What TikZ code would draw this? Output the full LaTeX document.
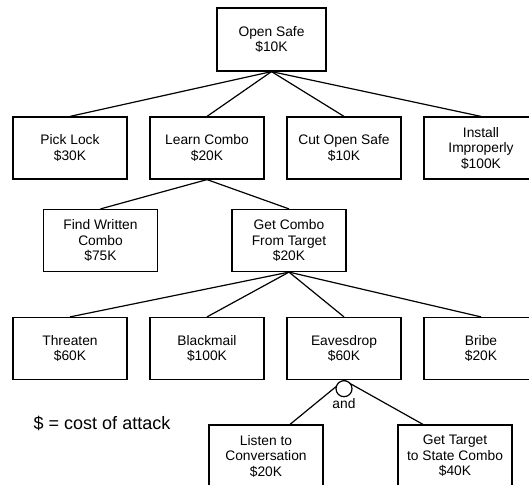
\documentclass[tikz,border=0pt]{standalone}
\usepackage{fontspec}
\setmainfont{Liberation Sans}
\usetikzlibrary{positioning}
\newcommand{\widthgoal}{114pt}
\newcommand{\heightgoal}{62pt}
\newcommand{\stepgoal}{137pt}
\newcommand{\goalfont}{\fontsize{13.8}{15.5}\selectfont}
\tikzset{
    goal/.style={draw, rectangle, align=center, font=\goalfont, line width=1.2pt,
        minimum width=\widthgoal, minimum height=\heightgoal, inner sep=2pt},
    edge/.style={line width=1.2pt},
    andgate/.style={draw, circle, fill=white, line width=1.2pt, minimum size=16pt, inner sep=0pt,
        label={[font=\goalfont, inner sep=1pt]below:and}}
}

\begin{document}
\begin{tikzpicture}[x=1pt, y=-1pt]
    \useasboundingbox (0,0) rectangle (529,484);

    \node[goal, minimum width=109pt, minimum height=63pt] (safe) at (271.5,39.5) {Open Safe\\\$10K};

    \path (70,148)
        node[goal] (pick) {Pick Lock\\\$30K}
        ++(\stepgoal,0) node[goal] (learn) {Learn Combo\\\$20K}
        ++(\stepgoal,0) node[goal] (cut) {Cut Open Safe\\\$10K}
        ++(\stepgoal,0) node[goal] (install) {Install\\Improperly\\\$100K};

    \node[goal] (written) at (100.5,240.5) {Find Written\\Combo\\\$75K};
    \node[goal] (target) at (289,240.5) {Get Combo\\From Target\\\$20K};

    \path (70,348.5)
        node[goal] (threaten) {Threaten\\\$60K}
        ++(\stepgoal,0) node[goal] (blackmail) {Blackmail\\\$100K}
        ++(\stepgoal,0) node[goal] (eaves) {Eavesdrop\\\$60K}
        ++(\stepgoal,0) node[goal] (bribe) {Bribe\\\$20K};

    \node[goal] (listen) at (266,456) {Listen to\\Conversation\\\$20K};
    \node[goal] (state) at (455,456) {Get Target\\to State Combo\\\$40K};

    \node[font=\fontsize{18}{22}\selectfont] (legend) at (102,423) {\$ = cost of attack};

    % or-branches
    \foreach \n in {pick, learn, cut, install}
        \draw[edge] (safe.south) -- (\n.north);
    \foreach \n in {written, target}
        \draw[edge] (learn.south) -- (\n.north);
    \foreach \n in {threaten, blackmail, eaves, bribe}
        \draw[edge] (target.south) -- (\n.north);

    % and-branch
    \draw[edge] (eaves.south) -- ([xshift=24pt]listen.north);
    \draw[edge] (eaves.south) -- ([xshift=-32pt]state.north);
    \node[andgate, below=0pt of eaves] (both) {};
\end{tikzpicture}
\end{document}
